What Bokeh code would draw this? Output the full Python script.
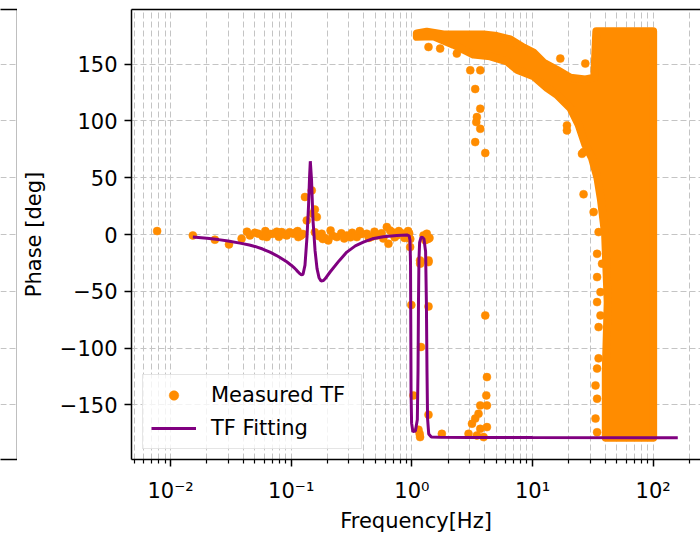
from bokeh.plotting import figure
from bokeh.models import Range1d, FixedTicker, LinearAxis, Legend, LegendItem
from bokeh.layouts import row
from bokeh.embed import file_html
from bokeh.resources import INLINE

FONT = "DejaVu Sans"
FS = "21px"
ORANGE = "#ff8c00"
PURPLE = "#800080"
GRID = "#c4c4c4"

# ---------------- data ----------------
phase_ticks = [-150, -100, -50, 0, 50, 100, 150]
phase_tick_labels = ["\u2212150", "\u2212100", "\u221250", "0", "50", "100", "150"]
freq_ticks = [0.01, 0.1, 1, 10, 100]
freq_tick_labels = ["10\u207b\u00b2", "10\u207b\u00b9", "10\u2070", "10\u00b9", "10\u00b2"]
freq_minor_ticks = [0.002, 0.003, 0.004, 0.005, 0.006, 0.007, 0.008, 0.009,
                    0.02, 0.03, 0.04, 0.05, 0.06, 0.07, 0.08, 0.09,
                    0.2, 0.3, 0.4, 0.5, 0.6, 0.7, 0.8, 0.9,
                    2, 3, 4, 5, 6, 7, 8, 9,
                    20, 30, 40, 50, 60, 70, 80, 90,
                    200, 300]

# Measured TF: individual points (Hz, deg)
meas_freq = [0.00774, 0.0153, 0.0233, 0.0305, 0.0388, 0.0455, 0.050, 0.0534, 0.058, 0.0627,
             0.067, 0.0712, 0.076, 0.0834, 0.088, 0.0918, 0.097, 0.104, 0.109, 0.1146,
             0.120, 0.125, 0.130, 0.1346, 0.148, 0.1507, 0.157, 0.163, 0.157, 0.170,
             0.179, 0.190, 0.203, 0.220, 0.239, 0.260, 0.289, 0.320, 0.350, 0.385,
             0.423, 0.465, 0.512, 0.560, 0.620, 0.640, 0.690, 0.751, 0.800, 0.852,
             0.900, 0.950, 0.968, 0.990, 1.031, 1.135, 1.172, 1.17, 1.19, 1.25,
             1.29, 1.33, 1.36, 1.40, 1.374, 1.374, 1.374, 1.374, 1.16, 1.17,
             1.773, 4.06, 4.19, 4.14, 3.69, 4.19, 3.57, 3.35, 3.15, 4.19,
             3.69, 2.95, 3.46, 3.93, 3.05, 3.69, 3.35, 3.69, 3.46, 3.69,
             3.35, 4.06, 3.42, 1.374, 1.716, 2.36, 17.0, 27.4, 19.3, 19.3,
             25.7, 26.5, 26.5, 32.1, 35.3, 34.3, 37.7, 34.3, 36.6, 34.3,
             36.6, 35.3, 35.3, 34.3, 33.3, 34.3, 33.3, 34.3,
             0.043, 0.061, 0.079, 0.113, 0.183, 0.212, 0.275, 0.31, 0.37, 0.44,
             0.49, 0.58, 0.66, 0.72, 0.78, 0.87, 0.93, 0.97]
meas_phase = [3.0, -0.8, -4.6, -8.7, -3.7, -0.8, 1.5, 0.7, -1.5, -2.3,
              0.5, 0.7, 2.5, 2.1, 0.0, -0.8, 2.0, 0.7, 1.8, -2.3,
              -1.0, 0.5, 33.0, 12.4, 38.8, 18.3, 22.0, 15.3, 2.0, -1.5,
              0.7, -3.0, -5.2, -1.0, -2.3, 1.0, -0.8, 1.5, -2.3, 0.5,
              0.7, -2.0, -0.8, 1.0, 6.5, -8.1, 2.0, -0.8, 1.5, 0.7,
              -1.5, 1.0, -11.0, -62.0, -141.6, -171.8, -25.7, -22.8, -99.0, -0.8,
              -5.0, 0.7, -4.0, -3.0, -24.3, -63.3, -158.6, -22.8, -175.4, -178.3,
              -175.4, -71.2, -125.5, -141.6, -150.4, -150.4, -157.7, -162.0, -166.5, -169.5,
              -171.0, -175.4, -176.8, -178.3, 144.5, 144.5, 128.0, 110.7, 103.3, 93.0,
              81.3, 71.7, 98.9, 165.0, 163.6, 159.2, 154.8, 150.4, 96.0, 91.6,
              71.0, 72.5, 35.4, 19.7, 2.1, -17.0, -25.7, -37.5, -50.7, -59.5,
              -71.2, -81.5, -109.0, -118.0, -132.8, -144.5, -162.0, -174.0,
              2.5, 3.0, -2.0, 3.0, -4.0, 3.5, -3.5, -2.5, 3.0, -3.0,
              2.5, -3.5, 3.5, -2.5, 3.0, -3.0, 3.0, -4.0]

# Measured TF: outline of the densely packed cloud of points (Hz, deg)
dense_freq = [1.1, 1.33, 1.83, 2.86, 3.93, 5.07, 6.54, 8.44, 10.2, 12.4,
              15.9, 20.6, 27.4, 32.5, 33.8, 100.0, 100.0, 40.5, 40.5, 42.0,
              40.0, 37.0, 34.5, 31.1, 27.4, 24.1, 20.6, 15.9, 13.2, 10.2,
              7.44, 6.14, 4.46, 3.24, 2.21, 1.51, 1.1]
dense_phase = [177.0, 178.5, 176.0, 176.0, 176.0, 174.6, 171.7, 164.4, 160.0, 151.0,
               145.0, 138.0, 136.5, 138.0, 178.8, 178.8, -178.8, -178.8, -120.0, -60.0,
               0.0, 30.0, 50.0, 67.3, 79.0, 96.6, 111.3, 123.0, 128.9, 139.2,
               145.0, 152.4, 156.8, 158.3, 167.0, 174.4, 174.0]

# TF fitting curve (Hz, deg)
fit_freq = [0.0153, 0.020, 0.025, 0.030, 0.0376, 0.045, 0.050, 0.058, 0.0667, 0.075,
            0.080, 0.0918, 0.100, 0.105, 0.110, 0.113, 0.118, 0.1215, 0.1253, 0.1301,
            0.1352, 0.1392, 0.1419, 0.1440, 0.1474, 0.1517, 0.1576, 0.1637, 0.1701, 0.1767,
            0.185, 0.191, 0.21, 0.25, 0.289, 0.34, 0.396, 0.47, 0.581, 0.75,
            0.91, 0.95, 0.965, 0.975, 0.980, 0.985, 0.995, 1.02, 1.07, 1.11,
            1.125, 1.135, 1.145, 1.16, 1.19, 1.22, 1.26, 1.30, 1.32, 1.335,
            1.35, 1.38, 1.45, 1.7, 3.0, 10.0, 100.0, 160.0]
fit_phase = [-2.3, -3.3, -4.5, -5.8, -7.6, -9.3, -10.5, -12.8, -15.5, -18.3,
             -20.0, -24.0, -27.0, -29.0, -31.0, -32.5, -34.5, -35.6, -35.0, -27.0,
             -2.0, 25.0, 50.0, 64.5, 48.0, 12.0, -14.0, -30.0, -38.0, -41.0,
             -40.5, -39.0, -33.0, -23.0, -15.5, -10.0, -6.7, -3.8, -1.9, -0.8,
             -0.4, -1.2, -5.0, -25.0, -80.0, -140.0, -166.0, -173.5, -173.0, -163.0,
             -120.0, -60.0, -22.0, -7.0, -2.8, -2.3, -4.0, -15.0, -60.0, -120.0,
             -162.0, -175.5, -178.2, -178.5, -178.6, -178.7, -178.8, -178.8]


def bare_axis(fig, side):
    ax = LinearAxis(ticker=FixedTicker(ticks=[]), axis_line_color="black", axis_line_width=1.5,
                    major_tick_line_color=None, minor_tick_line_color=None,
                    major_tick_out=0, major_tick_in=0, minor_tick_out=0, minor_tick_in=0,
                    major_label_text_font_size="0px", major_label_standoff=0)
    fig.add_layout(ax, side)


FIG_H = 538
TOP = 9
BOTTOM = 79

# ---------------- left (cut-off) panel ----------------
lp = figure(width=17, height=FIG_H, x_range=Range1d(0, 1), y_range=Range1d(-198, 198),
            output_backend="svg", toolbar_location=None,
            min_border_left=0, min_border_right=0, min_border_top=TOP, min_border_bottom=BOTTOM,
            outline_line_color=None, x_axis_location=None, y_axis_location=None)
lp.xgrid.visible = False
lp.ygrid.ticker = FixedTicker(ticks=phase_ticks)
lp.ygrid.grid_line_color = GRID
lp.ygrid.grid_line_dash = "6 3"
bare_axis(lp, "right")
bare_axis(lp, "above")
bare_axis(lp, "below")

# ---------------- main panel ----------------
p = figure(width=683, height=FIG_H, x_axis_type="log",
           x_range=Range1d(10 ** -2.3237, 10 ** 2.3925), y_range=Range1d(-198, 198),
           output_backend="svg", toolbar_location=None,
           min_border_left=114, min_border_right=0, min_border_top=TOP, min_border_bottom=BOTTOM,
           outline_line_color=None, background_fill_color="white", border_fill_color="white")

xa = p.below[0]
ya = p.left[0]
xg = p.xgrid[0]
yg = p.ygrid[0]

xt = FixedTicker(ticks=freq_ticks, minor_ticks=freq_minor_ticks)
xa.ticker = xt
xg.ticker = xt
xa.major_label_overrides = dict(zip(freq_ticks, freq_tick_labels))
yt = FixedTicker(ticks=phase_ticks)
ya.ticker = yt
yg.ticker = yt
ya.major_label_overrides = dict(zip(phase_ticks, phase_tick_labels))

for ax in (xa, ya):
    ax.axis_line_width = 1.5
    ax.major_tick_line_width = 1.5
    ax.minor_tick_line_width = 1.2
    ax.major_tick_out = 7
    ax.major_tick_in = 0
    ax.minor_tick_out = 4
    ax.minor_tick_in = 0
    ax.major_label_text_font = FONT
    ax.major_label_text_font_size = FS
    ax.major_label_text_color = "black"
    ax.axis_label_text_font = FONT
    ax.axis_label_text_font_size = FS
    ax.axis_label_text_font_style = "normal"
    ax.axis_label_text_color = "black"
ya.minor_tick_line_color = None
xa.major_label_standoff = 12
ya.major_label_standoff = 7
xa.axis_label = "Frequency[Hz]"
ya.axis_label = "Phase [deg]"
xa.axis_label_standoff = 3
ya.axis_label_standoff = 11

xg.grid_line_color = GRID
xg.grid_line_dash = "6 3"
xg.minor_grid_line_color = GRID
xg.minor_grid_line_dash = "6 3"
yg.grid_line_color = GRID
yg.grid_line_dash = "6 3"

bare_axis(p, "above")

p.patch(dense_freq, dense_phase, fill_color=ORANGE, line_color=ORANGE,
        line_width=8, line_join="round")
sc = p.scatter(meas_freq, meas_phase, size=8, fill_color=ORANGE, line_color=ORANGE, line_width=0.5)
ln = p.line(fit_freq, fit_phase, line_color=PURPLE, line_width=3)

legend = Legend(items=[LegendItem(label="Measured TF", renderers=[sc]),
                       LegendItem(label="TF Fitting", renderers=[ln])],
                location=(11, 10), padding=8, spacing=9,
                glyph_width=45, glyph_height=24, label_height=24, label_width=142,
                label_standoff=15, label_text_font=FONT, label_text_font_size=FS,
                label_text_color="black", border_line_color="#cccccc", border_line_width=1,
                background_fill_color="white", background_fill_alpha=0.8)
p.add_layout(legend)

layout = row(lp, p)
open("out.html", "w").write(file_html(layout, INLINE))
